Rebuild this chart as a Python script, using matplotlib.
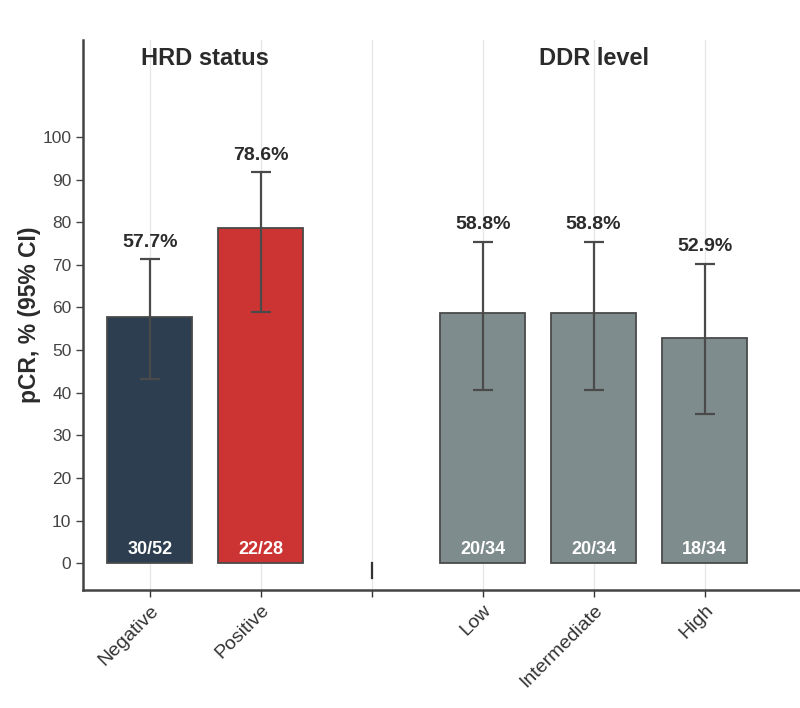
import numpy as np
import matplotlib.pyplot as plt

plt.rcParams['font.family'] = ['Liberation Sans', 'DejaVu Sans']

# pCR by HRD status and DDR level
labels = ['Negative', 'Positive', '', 'Low', 'Intermediate', 'High']
pcr = [57.7, 78.6, 0, 58.8, 58.8, 52.9]
ci_low = [43.2, 59.0, 0, 40.7, 40.7, 35.1]
ci_high = [71.3, 91.7, 0, 75.4, 75.4, 70.2]
counts = ['30/52', '22/28', '', '20/34', '20/34', '18/34']
colors = ['#2C3E50', '#CC3333', 'none', '#7F8C8D', '#7F8C8D', '#7F8C8D']
group_titles = ['HRD status', 'DDR level']
group_centers = [0.5, 4]

fig = plt.figure(figsize=(8, 7.08), dpi=100)
ax = fig.add_axes([0.104, 0.1667, 0.896, 0.777])

x = np.arange(len(labels))
for xi in x:
    ax.axvline(xi, color='#e6e6e6', lw=0.9, zorder=0)

real = [i for i in x if labels[i]]
ax.bar([x[i] for i in real], [pcr[i] for i in real], width=0.77,
       color=[colors[i] for i in real], edgecolor='#4a4a4a', lw=1.3, zorder=2)

for i in real:
    ax.errorbar(x[i], pcr[i], yerr=[[pcr[i] - ci_low[i]], [ci_high[i] - pcr[i]]],
                fmt='none', ecolor='#4a4a4a', elinewidth=1.6, capsize=7, capthick=1.6, zorder=3)
    ax.text(x[i], ci_high[i] + 2.0, f'{pcr[i]:.1f}%', ha='center', va='bottom',
            fontsize=14, fontweight='bold', color='#2b2b2b')
    ax.text(x[i], 3.2, counts[i], ha='center', va='center', fontsize=13,
            fontweight='bold', color='white', zorder=4)

# small zero mark at the empty separator slot
ax.plot([2, 2], [0, -3.5], color='#333333', lw=1.6, zorder=3)

for c, t in zip(group_centers, group_titles):
    ax.text(c, 118.5, t, ha='center', va='center', fontsize=17, fontweight='bold', color='#2b2b2b')

ax.set_xlim(-0.6, 5.86)
ax.set_ylim(-6.3, 122.8)
ax.set_yticks(np.arange(0, 101, 10))
ax.set_xticks(x)
ax.set_xticklabels(labels, rotation=45, ha='right', rotation_mode='anchor', fontsize=14, color='#444444')
ax.tick_params(axis='y', labelsize=12.5, colors='#444444', length=5, width=1)
ax.tick_params(axis='x', length=5, width=1, colors='#333333')
ax.set_ylabel('pCR, % (95% CI)', fontsize=16.5, fontweight='bold', color='#2b2b2b', labelpad=1)

for s in ['top', 'right']:
    ax.spines[s].set_visible(False)
for s in ['left', 'bottom']:
    ax.spines[s].set_color('#444444')
    ax.spines[s].set_linewidth(1.8)

fig.savefig('out.png', dpi=100)
